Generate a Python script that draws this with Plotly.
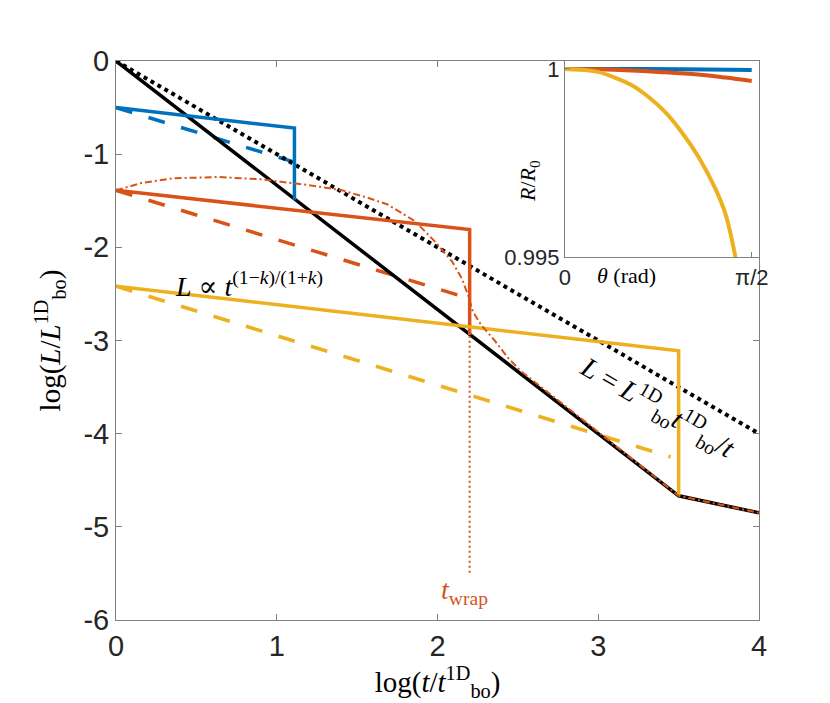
import numpy as np
import plotly.graph_objects as go

# main panel: log(L/L_bo) vs log(t/t_bo)
x_black = [0, 3.5, 4]
y_black = [0, -4.667, -4.85]
x_ref = [0, 4]
y_ref = [0, -4]

x_blue = [0, 1.11, 1.11]
y_blue = [-0.5, -0.72, -1.49]
x_blue_dash = [0, 1.1]
y_blue_dash = [-0.5, -1.08]

x_orange = [0, 2.2, 2.2]
y_orange = [-1.388, -1.81, -2.94]
x_orange_dash = [0, 2.18]
y_orange_dash = [-1.388, -2.54]
x_orange_dd = [0, 0.157, 0.35, 0.635, 0.9, 1.19, 1.4, 1.57, 1.69, 1.86, 1.98,
               2.09, 2.15, 2.19, 2.22, 2.27, 2.36, 2.44, 2.52, 2.73, 2.94, 3.5, 4]
y_orange_dd = [-1.388, -1.31, -1.26, -1.245, -1.27, -1.33, -1.385, -1.47, -1.54, -1.72, -1.93,
               -2.15, -2.33, -2.51, -2.69, -2.83, -3.01, -3.19, -3.33, -3.62, -3.9, -4.667, -4.85]
x_twrap = [2.2, 2.2]
y_twrap = [-2.95, -5.5]

x_yellow = [0, 3.5, 3.5]
y_yellow = [-2.418, -3.11, -4.667]
x_yellow_dash = [0, 3.45]
y_yellow_dash = [-2.418, -4.25]

main_ticks = [0, -1, -2, -3, -4, -5, -6]
main_ticktext = ['0', '-1', '-2', '-3', '-4', '-5', '-6']

# inset: R/R0 vs theta
th_blue = [0, 0.5, 1.0, 1.5708]
r_blue = [1.0, 1.0, 0.99999, 0.99997]
th_orange = [0, 0.28, 0.56, 0.79, 1.12, 1.35, 1.5708]
r_orange = [1.0, 0.99999, 0.99996, 0.99992, 0.99985, 0.99977, 0.99968]
th_yellow = [0, 0.14, 0.279, 0.42, 0.56, 0.701, 0.842, 0.983, 1.124, 1.265, 1.35, 1.434]
r_yellow = [1.0, 0.99998, 0.99992, 0.99977, 0.99957, 0.99926, 0.99886, 0.99832,
            0.99766, 0.99682, 0.99615, 0.995]

BLUE = '#0072BD'
ORANGE = '#D95319'
YELLOW = '#EDB120'
AXC = '#808080'
TXT = '#262626'
SERIF = 'Liberation Serif, DejaVu Serif, serif'
SANS = 'Liberation Sans, Arial, sans-serif'

fig = go.Figure()

def line(x, y, color, width, dash='solid', xa='x', ya='y', shape='linear'):
    fig.add_trace(go.Scatter(x=x, y=y, mode='lines', xaxis=xa, yaxis=ya,
                             line=dict(color=color, width=width, dash=dash, shape=shape),
                             showlegend=False, hoverinfo='skip'))

line(x_blue_dash, y_blue_dash, BLUE, 3.5, '17px,17px')
line(x_orange_dash, y_orange_dash, ORANGE, 3.5, '17px,17px')
line(x_yellow_dash, y_yellow_dash, YELLOW, 3.5, '17px,17px')
line(x_black, y_black, 'black', 3.5)
line(x_ref, y_ref, 'black', 4, '4px,4px')
line(x_blue, y_blue, BLUE, 3.5)
line(x_orange, y_orange, ORANGE, 3.5)
line(x_yellow, y_yellow, YELLOW, 3.5)
line(x_orange_dd, y_orange_dd, ORANGE, 2, '7px,3px,2px,3px')
line(x_twrap, y_twrap, ORANGE, 2, '2px,3px')

line(th_blue, r_blue, BLUE, 4, xa='x2', ya='y2', shape='spline')
line(th_orange, r_orange, ORANGE, 4, xa='x2', ya='y2', shape='spline')
line(th_yellow, r_yellow, YELLOW, 4, xa='x2', ya='y2', shape='spline')

axis_common = dict(showline=True, linecolor=AXC, linewidth=1, mirror='ticks',
                   ticks='inside', tickcolor=AXC, ticklen=6, showgrid=False,
                   zeroline=False, tickfont=dict(family=SANS, size=29, color=TXT))
inset_common = dict(showline=True, linecolor=AXC, linewidth=1, mirror=True,
                    ticks='inside', tickcolor=AXC, ticklen=5, showgrid=False,
                    zeroline=False, tickfont=dict(family=SANS, size=22, color=TXT))

fig.update_layout(
    width=830, height=703,
    margin=dict(l=108, r=79, t=53, b=91),
    paper_bgcolor='white', plot_bgcolor='white',
    xaxis=dict(range=[0, 4], tickvals=[0, 1, 2, 3, 4], domain=[0, 1],
               title=dict(text='log(<i>t</i>/<i>t</i><sup>1D</sup><sub>bo</sub>)',
                          font=dict(family=SERIF, size=29, color='black'), standoff=0),
               **axis_common),
    yaxis=dict(range=[-6, 0], tickvals=main_ticks, ticktext=main_ticktext, domain=[0, 1],
               title=dict(text='log(<i>L</i>/<i>L</i><sup>1D</sup><sub>bo</sub>)',
                          font=dict(family=SERIF, size=29, color='black'), standoff=14),
               **axis_common),
    xaxis2=dict(range=[0, 1.632], domain=[0.698, 1], anchor='y2',
                tickvals=[0, 1.5708], ticktext=['0', 'π/2'], **inset_common),
    yaxis2=dict(range=[0.995, 1.00021], domain=[0.649, 1], anchor='x2',
                tickvals=[0.995, 1], ticktext=['0.995', '1'], **inset_common),
)

fig.add_annotation(x=2.17, y=-5.69, xref='x', yref='y', showarrow=False,
                   text='<i>t</i><sub>wrap</sub>',
                   font=dict(family=SERIF, size=28, color=ORANGE))
fig.add_annotation(x=0.83, y=-2.4, xref='x', yref='y', showarrow=False,
                   text='<i>L</i> ∝ <i>t</i><sup>(1−<i>k</i>)/(1+<i>k</i>)</sup>',
                   font=dict(family=SERIF, size=28, color='black'))
fig.add_annotation(x=3.37, y=-3.72, xref='x', yref='y', showarrow=False, textangle=30,
                   text='<i>L</i> = <i>L</i><sup>1D</sup><sub>bo</sub><i>t</i><sup>1D</sup><sub>bo</sub>/<i>t</i>',
                   font=dict(family=SERIF, size=28, color='black'))
# inset axis labels, placed in line with the tick labels
fig.add_annotation(x=(650 - 108) / 643, y=(612 - 267) / 559, xref='paper', yref='paper',
                   showarrow=False, text='<i>θ</i> (rad)',
                   font=dict(family=SERIF, size=22, color='black'))
fig.add_annotation(x=(537 - 108) / 643, y=(612 - 150) / 559, xref='paper', yref='paper',
                   showarrow=False, textangle=-90, text='<i>R</i>/<i>R</i><sub>0</sub>',
                   font=dict(family=SERIF, size=22, color='black'))

fig.write_html("out.html")
